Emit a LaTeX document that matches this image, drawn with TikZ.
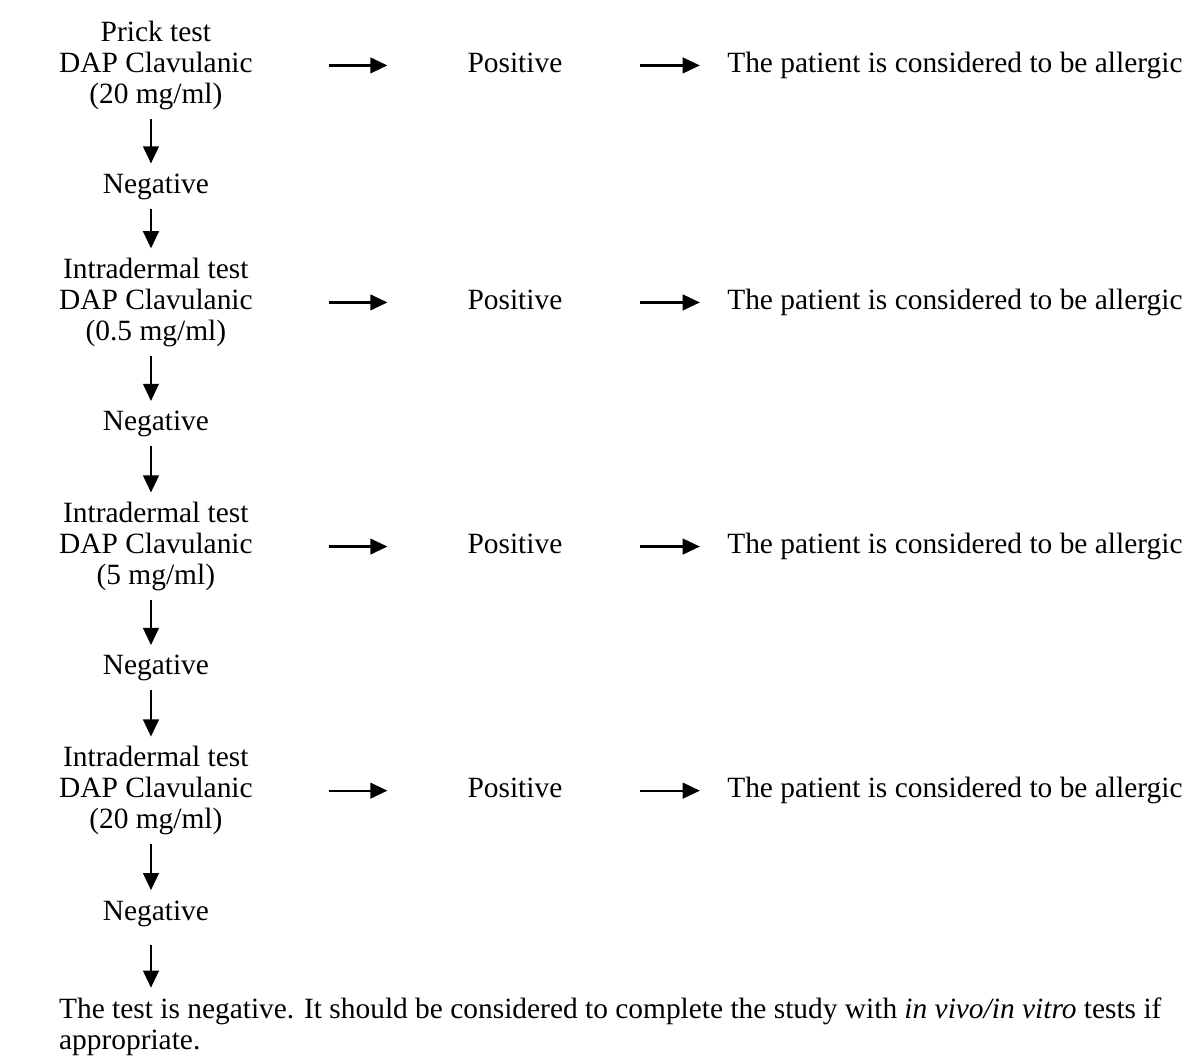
\documentclass[tikz,border=0pt]{standalone}
\usepackage{fontspec}
\setmainfont{Liberation Serif}
\usetikzlibrary{arrows.meta, positioning}

\begin{document}
\begin{tikzpicture}[
on grid,
txt/.style={inner sep=0pt, align=center, font=\fontsize{12pt}{12.6pt}\selectfont},
word/.style={txt, text height=8.2pt, text depth=2.6pt},
note/.style={txt, align=left},
arrow/.style={-{Triangle[length=7pt, width=6.4pt]}, line width=0.9pt},
across/.style={arrow, shorten <=31.1pt, shorten >=32.5pt},
onward/.style={arrow, shorten <=31.6pt, shorten >=11pt},
down/.style={arrow, shorten <=3.5pt, shorten >=3.8pt, transform canvas={xshift=-2pt}}
]
\useasboundingbox (0,0) rectangle (483.9pt,-432.9pt);

\node[txt] (t1) at (63.6pt,-26.7pt)
{Prick test\\
DAP Clavulanic\\
(20 mg/ml)};
\node[word, right=146.5pt of t1] (pos1) {Positive};
\node[word, right=179.5pt of pos1] (allergic1) {The patient is considered to be allergic};

\node[word, below=49.4pt of t1] (neg1) {Negative};

\node[txt, below=47.3pt of neg1] (t2)
{Intradermal test\\
DAP Clavulanic\\
(0.5 mg/ml)};
\node[word, right=146.5pt of t2] (pos2) {Positive};
\node[word, right=179.5pt of pos2] (allergic2) {The patient is considered to be allergic};

\node[word, below=49.6pt of t2] (neg2) {Negative};

\node[txt, below=50pt of neg2] (t3)
{Intradermal test\\
DAP Clavulanic\\
(5 mg/ml)};
\node[word, right=146.5pt of t3] (pos3) {Positive};
\node[word, right=179.5pt of pos3] (allergic3) {The patient is considered to be allergic};

\node[word, below=49.6pt of t3] (neg3) {Negative};

\node[txt, below=50pt of neg3] (t4)
{Intradermal test\\
DAP Clavulanic\\
(20 mg/ml)};
\node[word, right=146.5pt of t4] (pos4) {Positive};
\node[word, right=179.5pt of pos4] (allergic4) {The patient is considered to be allergic};

\node[word, below=50pt of t4] (neg4) {Negative};

\node[note, anchor=north west] (result) at ([yshift=-28.6pt]neg4.south -| t4.west)
{The test is negative. It should be considered to complete the study with \textit{in vivo/in vitro} tests if\\
appropriate.};

\draw[across] (t1.east) -- (pos1.west);
\draw[onward] (pos1.east) -- (allergic1.west);
\draw[across] (t2.east) -- (pos2.west);
\draw[onward] (pos2.east) -- (allergic2.west);
\draw[across] (t3.east) -- (pos3.west);
\draw[onward] (pos3.east) -- (allergic3.west);
\draw[across] (t4.east) -- (pos4.west);
\draw[onward] (pos4.east) -- (allergic4.west);

\draw[down] (t1) -- (neg1);
\draw[down] (neg1) -- (t2);
\draw[down] (t2) -- (neg2);
\draw[down] (neg2) -- (t3);
\draw[down] (t3) -- (neg3);
\draw[down] (neg3) -- (t4);
\draw[down] (t4) -- (neg4);
\draw[down, shorten <=7.3pt] (neg4) -- (neg4 |- result.north);

\end{tikzpicture}
\end{document}
